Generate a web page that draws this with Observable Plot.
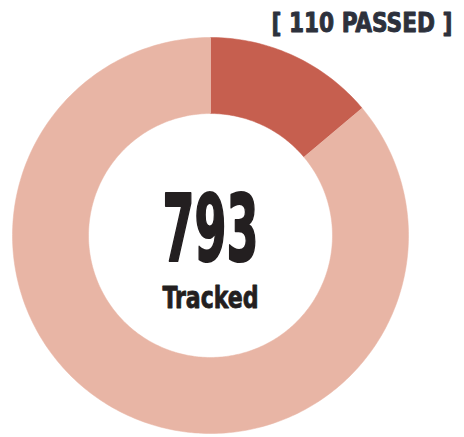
<!DOCTYPE html>
<html>
<head>
<meta charset="utf-8">
<script src="https://cdn.jsdelivr.net/npm/d3@7"></script>
<script src="https://cdn.jsdelivr.net/npm/@observablehq/plot@0.6"></script>
<style>
  html, body { margin: 0; padding: 0; background: #fff; }
</style>
</head>
<body>
<div id="chart"></div>
<script>
// ---- data ----
const categories = ["Passed", "Not passed"];
const values = [110, 683];
const totalTracked = 793;
const centerLabel = "Tracked";
const passedLabel = "[ 110 PASSED ]";

// ---- style ----
const colors = ["#c65f4f", "#e8b5a5"];
const innerRatio = 0.616;
const fontStack = "'Liberation Sans Narrow', 'DejaVu Sans Condensed', 'Roboto', sans-serif";

// build ring polygons from the pie angles (unit circle, angle clockwise from 12 o'clock)
const pie = d3.pie().sort(null).value(d => d.value).startAngle(0).endAngle(2 * Math.PI);
const arcs = pie(categories.map((c, i) => ({category: c, value: values[i]})));
const ring = [];
for (const a of arcs) {
  const n = Math.max(8, Math.ceil((a.endAngle - a.startAngle) / (Math.PI / 180)));
  for (let k = 0; k <= n; k++) {
    const t = a.startAngle + (a.endAngle - a.startAngle) * k / n;
    ring.push({category: a.data.category, x: Math.sin(t), y: Math.cos(t)});
  }
  for (let k = n; k >= 0; k--) {
    const t = a.startAngle + (a.endAngle - a.startAngle) * k / n;
    ring.push({category: a.data.category, x: innerRatio * Math.sin(t), y: innerRatio * Math.cos(t)});
  }
}

const labels = [
  {text: String(totalTracked), x: 0, y: -0.131, size: 92, color: "#231f20", len: 96, sw: 2.2},
  {text: centerLabel, x: 0, y: -0.364, size: 30, color: "#231f20", len: 96, sw: 0.8},
  {text: passedLabel, x: 0.765, y: 1.03, size: 26, color: "#2d313c", len: 181, sw: 0.9}
];

const chart = Plot.plot({
  width: 464,
  height: 437,
  marginLeft: 12,
  marginRight: 56,
  marginTop: 37,
  marginBottom: 4,
  x: {domain: [-1, 1], axis: null},
  y: {domain: [-1, 1], axis: null},
  color: {domain: categories, range: colors},
  style: {background: "#fff", overflow: "visible"},
  marks: [
    Plot.line(ring, {x: "x", y: "y", z: "category", fill: "category", stroke: "category", strokeWidth: 0.5, curve: "linear"}),
    Plot.text(labels, {
      x: "x", y: "y", text: "text",
      fontSize: d => d.size, fill: d => d.color,
      stroke: d => d.color, strokeWidth: d => d.sw,
      fontWeight: "bold", fontFamily: fontStack,
      textAnchor: "middle", lineAnchor: "bottom"
    })
  ]
});

document.getElementById("chart").appendChild(chart);

// condense text horizontally to the reference widths
d3.select(chart).selectAll("text").each(function (d, i) {
  const lab = labels[i];
  if (!lab) return;
  const bb = this.getBBox();
  if (!bb.width) return;
  const cx = bb.x + bb.width / 2;
  const sx = lab.len / bb.width;
  const prev = this.getAttribute("transform") || "";
  this.setAttribute("transform", `${prev} translate(${cx},0) scale(${sx},1) translate(${-cx},0)`);
});
</script>
</body>
</html>
